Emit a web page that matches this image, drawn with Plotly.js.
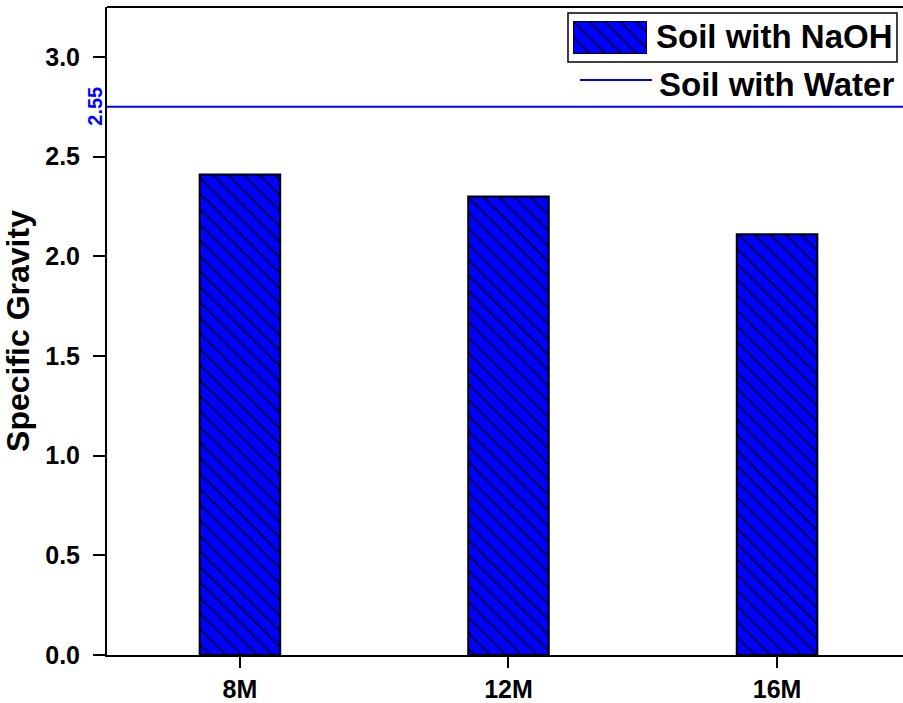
<!DOCTYPE html>
<html>
<head>
<meta charset="utf-8">
<script src="https://cdn.plot.ly/plotly-3.0.1.min.js"></script>
<style>html,body{margin:0;padding:0;background:#fff;}#chart{width:903px;height:703px;}</style>
</head>
<body>
<div id="chart"></div>
<script>
// ---- data ----
const categories = ['8M', '12M', '16M'];
const naohValues = [2.41, 2.30, 2.11];
const waterValue = 2.75;
const waterLabel = '2.55';
const seriesNames = ['Soil with NaOH', 'Soil with Water'];
const yTickVals = [0, 0.5, 1, 1.5, 2, 2.5, 3];
const yTickText = ['0.0', '0.5', '1.0', '1.5', '2.0', '2.5', '3.0'];

const FONT = 'Liberation Sans, Arial, sans-serif';
const BLUE = '#0000ff';
const patternStyle = {shape: '\\', fgcolor: '#000', bgcolor: BLUE, size: 11, solidity: 0.12, fillmode: 'replace'};

// paper coordinate helpers (plot area: x 107..903, y 7..655)
const L = 107, R = 903, T = 7, B = 655;
const px = v => (v - L) / (R - L);
const py = v => (B - v) / (B - T);

const traces = [
  {
    type: 'bar', x: categories, y: naohValues, width: 0.3, name: seriesNames[0],
    marker: {color: BLUE, pattern: patternStyle, line: {color: '#000', width: 2}},
    showlegend: false, hoverinfo: 'x+y'
  },
  { // legend swatch
    type: 'bar', x: [0], y: [1], width: [1], xaxis: 'x2', yaxis: 'y2',
    marker: {color: BLUE, pattern: patternStyle, line: {color: '#000', width: 2}},
    showlegend: false, hoverinfo: 'skip'
  }
];

const layout = {
  width: 903, height: 703,
  margin: {l: L, r: 0, t: T, b: 703 - B, pad: 0},
  paper_bgcolor: '#fff', plot_bgcolor: '#fff',
  font: {family: FONT, color: '#000'},
  showlegend: false,
  xaxis: {
    type: 'category', range: [-0.495, 2.469],
    showline: true, linecolor: '#000', linewidth: 2,
    ticks: 'outside', ticklen: 11, tickwidth: 2, tickcolor: '#000',
    tickfont: {family: FONT, size: 25, weight: 'bold'},
    showgrid: false, zeroline: false, fixedrange: true
  },
  yaxis: {
    range: [0, 3.25],
    tickvals: yTickVals, ticktext: yTickText,
    showline: true, linecolor: '#000', linewidth: 2,
    ticks: 'outside', ticklen: 12, tickwidth: 2, tickcolor: '#000',
    ticklabelstandoff: 8,
    tickfont: {family: FONT, size: 25, weight: 'bold'},
    title: {text: 'Specific Gravity', font: {family: FONT, size: 32, weight: 'bold'}, standoff: 8},
    showgrid: false, zeroline: false, fixedrange: true
  },
  xaxis2: {domain: [px(573), px(647)], anchor: 'y2', range: [-0.5, 0.5], visible: false, fixedrange: true},
  yaxis2: {domain: [py(54), py(21)], anchor: 'x2', range: [0, 1], visible: false, fixedrange: true},
  shapes: [
    // top frame line
    {type: 'line', xref: 'paper', yref: 'paper', x0: 0, x1: 1, y0: 1, y1: 1, line: {color: '#000', width: 2}},
    // water reference line
    {type: 'line', xref: 'paper', yref: 'y', x0: 0, x1: 1, y0: waterValue, y1: waterValue, line: {color: BLUE, width: 2}},
    // legend box around first item
    {type: 'rect', xref: 'paper', yref: 'paper', x0: px(568), x1: px(897), y0: py(62), y1: py(13), line: {color: '#000', width: 1.5}, fillcolor: 'rgba(0,0,0,0)'},
    // legend line sample
    {type: 'line', xref: 'paper', yref: 'paper', x0: px(580), x1: px(652), y0: py(80), y1: py(80), line: {color: BLUE, width: 2}}
  ],
  annotations: [
    {xref: 'paper', yref: 'y', x: px(95), y: waterValue, text: waterLabel, textangle: -90, showarrow: false,
     xanchor: 'center', yanchor: 'middle', font: {family: FONT, size: 20, weight: 'bold', color: BLUE}},
    {xref: 'paper', yref: 'paper', x: px(654), y: py(37), text: seriesNames[0], showarrow: false,
     xanchor: 'left', yanchor: 'middle', font: {family: FONT, size: 33, weight: 'bold', color: '#000'}},
    {xref: 'paper', yref: 'paper', x: px(657), y: py(85), text: seriesNames[1], showarrow: false,
     xanchor: 'left', yanchor: 'middle', font: {family: FONT, size: 33, weight: 'bold', color: '#000'}}
  ]
};

Plotly.newPlot('chart', traces, layout, {displayModeBar: false, staticPlot: true});
</script>
</body>
</html>
